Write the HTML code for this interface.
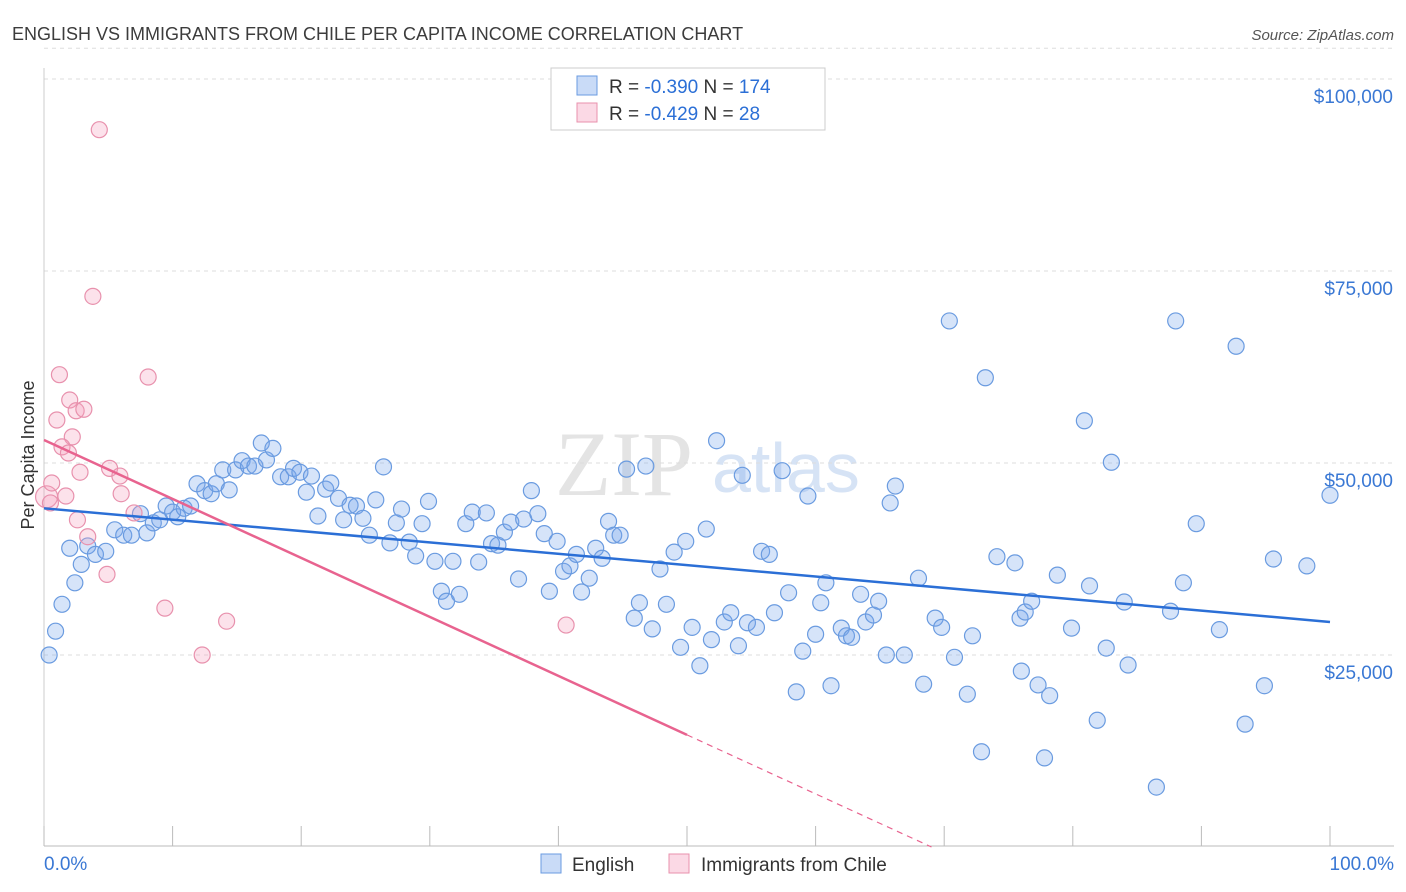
<!DOCTYPE html>
<html><head><meta charset="utf-8"><style>
body{margin:0;background:#fff;font-family:"Liberation Sans",sans-serif}
svg{display:block}
</style></head><body>
<svg id="chart" width="1406" height="892" viewBox="0 0 1406 892" xmlns="http://www.w3.org/2000/svg" font-family="Liberation Sans, sans-serif">
<text x="12" y="40" font-size="18" fill="#3c3c3c">ENGLISH VS IMMIGRANTS FROM CHILE PER CAPITA INCOME CORRELATION CHART</text>
<text x="1394" y="40" font-size="15" fill="#555" text-anchor="end" font-style="italic">Source: ZipAtlas.com</text>
<text x="555" y="495" font-size="92" fill="#e4e4e4" font-family="Liberation Serif, serif">ZIP</text>
<text x="712" y="492" font-size="70" fill="#d6e3f5">atlas</text>
<g id="grid"></g>
<g id="axes"></g>
<g id="pts"></g>
<g id="trends"></g>
<text transform="translate(34,455) rotate(-90)" font-size="18" fill="#333" text-anchor="middle">Per Capita Income</text>
<g>
<rect x="551" y="68" width="274" height="62" fill="#fff" stroke="#ccc"/>
<rect x="577" y="76" width="20" height="19" fill="rgba(120,165,235,0.4)" stroke="#6a9be0"/>
<rect x="577" y="103" width="20" height="19" fill="rgba(245,160,190,0.4)" stroke="#e891ad"/>
<text x="609" y="93" font-size="19" fill="#333">R = <tspan fill="#2b6fd6">-0.390</tspan>   N = <tspan fill="#2b6fd6">174</tspan></text>
<text x="609" y="120" font-size="19" fill="#333">R = <tspan fill="#2b6fd6">-0.429</tspan>   N =  <tspan fill="#2b6fd6"> 28</tspan></text>
</g>
<g>
<rect x="541" y="854" width="20" height="19" fill="rgba(120,165,235,0.4)" stroke="#6a9be0"/>
<text x="572" y="871" font-size="19" fill="#333">English</text>
<rect x="669" y="854" width="20" height="19" fill="rgba(245,160,190,0.4)" stroke="#e891ad"/>
<text x="701" y="871" font-size="19" fill="#333">Immigrants from Chile</text>
</g>
</svg>
<script>
const yTicks=[25000,50000,75000,100000];
const yTickLabels=["$25,000","$50,000","$75,000","$100,000"];
const xTickLabels=["0.0%","100.0%"];
const englishX=[0.4,0.9,1.4,2.0,2.4,2.9,3.4,4.0,4.8,5.5,6.2,6.8,7.5,8.0,8.5,9.0,9.5,10.0,10.4,10.9,11.4,11.9,12.5,13.0,13.4,13.9,14.4,14.9,15.4,15.9,16.4,16.9,17.3,17.8,18.4,19.0,19.4,19.9,20.4,20.8,21.3,21.9,22.3,22.9,23.3,23.8,24.3,24.8,25.3,25.8,26.4,26.9,27.4,27.8,28.4,28.9,29.4,29.9,30.4,30.9,31.3,31.8,32.3,32.8,33.3,33.8,34.4,34.8,35.3,35.8,36.3,36.9,37.3,37.9,38.4,38.9,39.3,39.9,40.4,40.9,41.4,41.8,42.4,42.9,43.4,43.9,44.3,44.8,45.3,45.9,46.3,46.8,47.3,47.9,48.4,49.0,49.5,49.9,50.4,51.0,51.5,51.9,52.3,52.9,53.4,54.0,54.3,54.7,55.4,55.8,56.4,56.8,57.4,57.9,58.5,59.0,59.4,60.0,60.4,60.8,61.2,62.0,62.4,62.8,63.5,63.9,64.5,64.9,65.5,65.8,66.2,66.9,68.0,68.4,69.3,69.8,70.4,70.8,71.8,72.2,72.9,73.2,74.1,75.5,75.9,76.0,76.3,76.8,77.3,77.8,78.2,78.8,79.9,80.9,81.3,81.9,82.6,83.0,84.0,84.3,87.6,88.0,88.6,89.6,91.4,92.7,93.4,86.5,94.9,95.6,98.2,100];
const englishY=[25.0,28.1,31.6,38.9,34.4,36.8,39.2,38.1,38.5,41.3,40.6,40.6,43.4,40.9,42.2,42.6,44.4,43.6,43.0,44.1,44.4,47.3,46.4,46.0,47.3,49.1,46.5,49.1,50.3,49.6,49.6,52.6,50.4,51.9,48.2,48.2,49.3,48.8,46.2,48.3,43.1,46.6,47.4,45.4,42.6,44.5,44.4,42.8,40.6,45.2,49.5,39.6,42.2,44.0,39.7,37.9,42.1,45.0,37.2,33.3,32.0,37.2,32.9,42.1,43.6,37.1,43.5,39.5,39.3,41.0,42.3,34.9,42.7,46.4,43.4,40.8,33.3,39.8,35.9,36.6,38.1,33.2,35.0,38.9,37.6,42.4,40.6,40.6,49.2,29.8,31.8,49.6,28.4,36.2,31.6,38.4,26.0,39.8,28.6,23.6,41.4,27.0,52.9,29.3,30.5,26.2,48.4,29.2,28.6,38.5,38.1,30.5,49.0,33.1,20.2,25.5,45.7,27.7,31.8,34.4,21.0,28.5,27.5,27.3,32.9,29.3,30.2,32.0,25.0,44.8,47.0,25.0,35.0,21.2,29.8,28.6,68.5,24.7,19.9,27.5,12.4,61.1,37.8,37.0,29.8,22.9,30.6,32.0,21.1,11.6,19.7,35.4,28.5,55.5,34.0,16.5,25.9,50.1,31.9,23.7,30.7,68.5,34.4,42.1,28.3,65.2,16.0,7.8,21.0,37.5,36.6,45.8];
const chileX=[0.2,0.5,0.6,1.2,1.0,1.7,2.0,2.2,1.4,1.9,2.5,3.1,2.8,2.6,3.4,3.8,4.3,5.1,5.9,6.0,4.9,7.0,8.1,9.4,12.3,14.2,40.6];
const chileY=[45.6,44.8,47.4,61.5,55.6,45.7,58.2,53.4,52.1,51.3,56.8,57.0,48.8,42.6,40.4,71.7,93.4,49.3,48.3,46.0,35.5,43.5,61.2,31.1,25.0,29.4,28.9];
const englishTrend=[44100,29300];
const chileTrend=[53000,14600];
const NS="http://www.w3.org/2000/svg";
const X=p=>44+p*12.86;
const Y=v=>847-v*192/25000;
function mk(tag,attrs,parent){const e=document.createElementNS(NS,tag);for(const k in attrs)e.setAttribute(k,attrs[k]);document.getElementById(parent).appendChild(e);return e;}
yTicks.forEach((t,i)=>{
 const l=mk('line',{x1:44,x2:1394,y1:Y(t),y2:Y(t),stroke:'#ddd','stroke-dasharray':'4,4'},'grid');
 
 
 const tx=mk('text',{x:1393,y:Y(t)+24,'font-size':19,fill:'#3a78d4','text-anchor':'end'},'axes');
 tx.textContent=yTickLabels[i];
 
 
});
const tl=mk('line',{x1:44,x2:1394,y1:Y(104000),y2:Y(104000),stroke:'#ddd','stroke-dasharray':'4,4'},'grid');


const ax=mk('line',{x1:44,x2:1394,y1:846,y2:846,stroke:'#bbb'},'axes');


const ay=mk('line',{x1:44,x2:44,y1:68,y2:846,stroke:'#ccc'},'axes');


for(let i=0;i<=10;i++){const t=mk('line',{x1:X(i*10),x2:X(i*10),y1:826,y2:846,stroke:'#bbb'},'axes');
 
 }
[[0,'start',44],[100,'end',1394]].forEach((d,i)=>{const t=mk('text',{x:d[2],y:870,'font-size':19,fill:'#3a78d4','text-anchor':d[1]},'axes');t.textContent=xTickLabels[i];
 
 });
englishX.forEach((x,i)=>{const c=mk('circle',{cx:X(x),cy:Y(englishY[i]*1000),r:8,fill:'rgba(120,165,235,0.3)',stroke:'#6a9be0','stroke-width':1.2},'pts');
 
 });
chileX.forEach((x,i)=>{const c=mk('circle',{cx:X(x),cy:Y(chileY[i]*1000),r:i==0?11:8,fill:'rgba(245,160,190,0.3)',stroke:'#e891ad','stroke-width':1.2},'pts');
 
 });
const bt=mk('line',{x1:X(0),y1:Y(englishTrend[0]),x2:X(100),y2:Y(englishTrend[1]),stroke:'#2b6fd6','stroke-width':2.5},'trends');


const slope=(chileTrend[1]-chileTrend[0])/50;
const xz=-chileTrend[0]/slope;
const pt=mk('line',{x1:X(0),y1:Y(chileTrend[0]),x2:X(50),y2:Y(chileTrend[1]),stroke:'#e8638f','stroke-width':2.5},'trends');


const pd=mk('line',{x1:X(50),y1:Y(chileTrend[1]),x2:X(xz),y2:Y(0),stroke:'#e8638f','stroke-width':1.2,'stroke-dasharray':'6,5'},'trends');


</script>
</body></html>
